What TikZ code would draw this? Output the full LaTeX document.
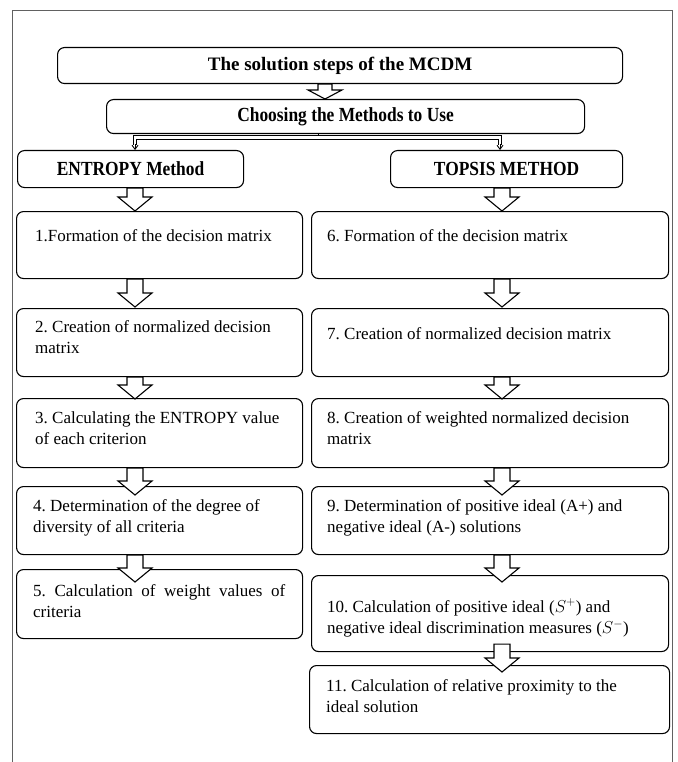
\documentclass[tikz,border=0pt]{standalone}
\usepackage{fontspec}
\setmainfont{Liberation Serif}
\newfontfamily\headfont{Liberation Serif}[FakeStretch=0.87]
\usetikzlibrary{calc,arrows.meta}
\frenchspacing
\newcommand{\bt}[1]{\parbox[t]{340pt}{\raggedright\frenchspacing\rmfamily\fontsize{17}{21.5}\selectfont #1}}
\newcommand{\blockarr}[2]{\path[barrow] let \p1=(#1), \p2=(#2) in
  (\x1-8pt,\y1) -- (\x1-8pt,\y2+14pt) -- (\x1-17pt,\y2+14pt) -- (\x1,\y2)
  -- (\x1+17pt,\y2+14pt) -- (\x1+8pt,\y2+14pt) -- (\x1+8pt,\y1) -- cycle;}
\begin{document}
\begin{tikzpicture}[x=1pt,y=-1pt,
  box/.style={draw,line width=1.1pt,rounded corners=7pt,inner sep=0pt,anchor=north west},
  head/.style={font=\headfont\bfseries\fontsize{20}{22}\selectfont},
  txt/.style={anchor=base west,inner sep=0pt},
  barrow/.style={draw,line width=1.1pt,fill=white,line join=miter},
  conn/.style={line width=0.9pt}]
\useasboundingbox (0,0) rectangle (677,762);
\draw[line width=1.6pt,color=black!62] (12.5,762) -- (12.5,10.5) -- (672.5,10.5) -- (672.5,762);

% coordinates for arrow axes
\coordinate (LX) at (135,0);
\coordinate (RX) at (502,0);
\coordinate (BX) at (500,0);
\coordinate (TX) at (325,0);
\coordinate (tk) at (318,137.5);

% heading boxes
\node[box,minimum width=565pt,minimum height=36pt,font=\bfseries\fontsize{19}{22}\selectfont] (title) at (57,47) {The solution steps of the MCDM};
\node[box,minimum width=478pt,minimum height=34pt,head] (choose) at (106,99) {Choosing the Methods to Use};
\node[box,minimum width=226pt,minimum height=37pt,head] (entropy) at (17,150) {ENTROPY Method};
\node[box,minimum width=232pt,minimum height=37pt,head] (topsis) at (390,150) {TOPSIS METHOD};

% left column
\node[box,minimum width=286pt,minimum height=67pt] (b1) at (16,211) {};
\node[box,minimum width=286pt,minimum height=68pt] (b2) at (16,308) {};
\node[box,minimum width=286pt,minimum height=69pt] (b3) at (16,398) {};
\node[box,minimum width=286pt,minimum height=68pt] (b4) at (16,486) {};
\node[box,minimum width=286pt,minimum height=69pt] (b5) at (16,569) {};
% right column
\node[box,minimum width=357pt,minimum height=67pt] (b6) at (311,211) {};
\node[box,minimum width=357pt,minimum height=68pt] (b7) at (311,308) {};
\node[box,minimum width=357pt,minimum height=69pt] (b8) at (311,398) {};
\node[box,minimum width=357pt,minimum height=68pt] (b9) at (311,486) {};
\node[box,minimum width=357pt,minimum height=76pt] (b10) at (311,575) {};
\node[box,minimum width=360pt,minimum height=68pt] (b11) at (309,665) {};

% texts
\node[txt] (t1) at ($(b1.north west)+(19,30)$) {\bt{1.Formation of the decision matrix}};
\node[txt] (t2) at ($(b2.north west)+(19,24)$) {\bt{2. Creation of normalized decision\\matrix}};
\node[txt] (t3) at ($(b3.north west)+(19,25)$) {\bt{3. Calculating the ENTROPY value\\of each criterion}};
\node[txt] (t4) at ($(b4.north west)+(17,25)$) {\bt{4. Determination of the degree of\\diversity of all criteria}};
\node[txt] (t5) at ($(b5.north west)+(17,27)$) {\bt{\makebox[252pt][s]{5. Calculation of weight values of}\\criteria}};
\node[txt] (t6) at ($(b6.north west)+(16,30)$) {\bt{6. Formation of the decision matrix}};
\node[txt] (t7) at ($(b7.north west)+(16,31)$) {\bt{7. Creation of normalized decision matrix}};
\node[txt] (t8) at ($(b8.north west)+(16,25)$) {\bt{8. Creation of weighted normalized decision\\matrix}};
\node[txt] (t9) at ($(b9.north west)+(16,25)$) {\bt{9. Determination of positive ideal (A+) and\\negative ideal (A-) solutions}};
\node[txt] (t10) at ($(b10.north west)+(16,37)$) {\bt{10. Calculation of positive ideal ($S^{+}$) and\\negative ideal discrimination measures ($S^{-}$)}};
\node[txt] (t11) at ($(b11.north west)+(17,26)$) {\bt{11. Calculation of relative proximity to the\\ideal solution}};

% title -> choose small block arrow
\path[barrow] let \p1=(title.south -| TX), \p2=(choose.north -| TX) in
  (\x1-7pt,\y1) -- (\x1-7pt,\y2+9pt) -- (\x1-17pt,\y2+9pt) -- (\x1,\y2)
  -- (\x1+17pt,\y2+9pt) -- (\x1+7pt,\y2+9pt) -- (\x1+7pt,\y1) -- cycle;

% branching double connector
\draw[conn] (choose.south -| tk) -- ($(tk)+(0,-1.5)$);
\draw[conn,double,double distance=2.8pt] ($(entropy.north -| LX)+(0,-5)$) |- (tk) -| ($(topsis.north -| BX)+(0,-5)$);
\draw[conn,-{Straight Barb[length=4pt,width=6pt]}] ($(entropy.north -| LX)+(0,-6)$) -- (entropy.north -| LX);
\draw[conn,-{Straight Barb[length=4pt,width=6pt]}] ($(topsis.north -| BX)+(0,-6)$) -- (topsis.north -| BX);

% left column arrows
\blockarr{entropy.south -| LX}{b1.north -| LX}
\blockarr{b1.south -| LX}{$(b2.north -| LX)+(0,-1)$}
\blockarr{b2.south -| LX}{$(b3.north -| LX)+(0,1)$}
\blockarr{b3.south -| LX}{$(b4.north -| LX)+(0,9)$}
\blockarr{b4.south -| LX}{$(b5.north -| LX)+(0,13)$}
% right column arrows
\blockarr{topsis.south -| RX}{b6.north -| RX}
\blockarr{b6.south -| RX}{$(b7.north -| RX)+(0,-1)$}
\blockarr{b7.south -| RX}{$(b8.north -| RX)+(0,1)$}
\blockarr{b8.south -| RX}{$(b9.north -| RX)+(0,9)$}
\blockarr{b9.south -| RX}{$(b10.north -| RX)+(0,7)$}
\blockarr{$(b10.south -| RX)+(0,-8)$}{$(b11.north -| RX)+(0,7)$}
\end{tikzpicture}
\end{document}
